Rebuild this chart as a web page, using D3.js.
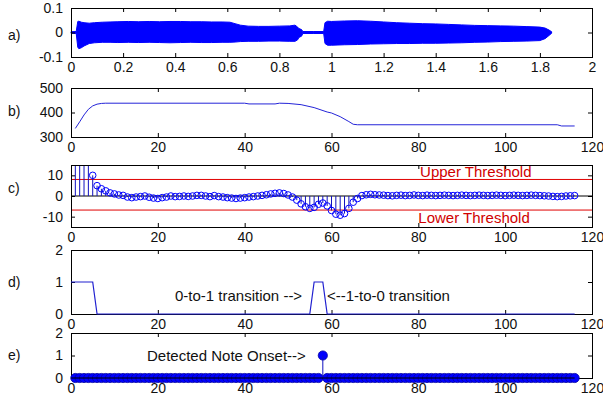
<!DOCTYPE html>
<html>
<head>
<meta charset="utf-8">
<script src="https://cdn.jsdelivr.net/npm/d3@7"></script>
<style>
  body { margin: 0; background: #fff; }
  text { font-family: "Liberation Sans", Arial, sans-serif; }
</style>
</head>
<body>
<script>

// ---- data ----

// a) waveform envelope (time in s)
var waveTime  = [0, 0.02, 0.026, 0.03, 0.04, 0.05, 0.07, 0.09, 0.12, 0.15, 0.18, 0.22, 0.26, 0.3, 0.34, 0.38, 0.42, 0.46, 0.5, 0.54, 0.58, 0.61, 0.63, 0.65, 0.68, 0.72, 0.76, 0.8, 0.84, 0.86, 0.87, 0.875, 0.885, 0.89, 0.93, 0.97, 0.975, 0.985, 1.0, 1.05, 1.1, 1.15, 1.2, 1.25, 1.3, 1.35, 1.4, 1.45, 1.5, 1.55, 1.6, 1.65, 1.7, 1.75, 1.8, 1.82, 1.835, 1.845];
var waveUpper = [0.003, 0.004, 0.045, 0.046, 0.042, 0.04, 0.038, 0.04, 0.042, 0.043, 0.044, 0.045, 0.044, 0.045, 0.044, 0.045, 0.045, 0.044, 0.044, 0.043, 0.043, 0.042, 0.036, 0.03, 0.026, 0.025, 0.025, 0.026, 0.027, 0.03, 0.022, 0.016, 0.012, 0.004, 0.004, 0.004, 0.04, 0.046, 0.045, 0.047, 0.048, 0.046, 0.043, 0.04, 0.038, 0.036, 0.035, 0.033, 0.031, 0.029, 0.028, 0.027, 0.026, 0.024, 0.022, 0.018, 0.01, 0.003];
var waveLower = [-0.003, -0.004, -0.06, -0.066, -0.062, -0.055, -0.045, -0.042, -0.04, -0.04, -0.041, -0.04, -0.041, -0.04, -0.041, -0.042, -0.041, -0.04, -0.041, -0.041, -0.04, -0.04, -0.039, -0.037, -0.036, -0.036, -0.035, -0.035, -0.036, -0.036, -0.03, -0.02, -0.015, -0.004, -0.004, -0.004, -0.045, -0.052, -0.052, -0.05, -0.049, -0.047, -0.046, -0.045, -0.045, -0.044, -0.044, -0.043, -0.042, -0.04, -0.039, -0.037, -0.036, -0.035, -0.033, -0.025, -0.012, -0.003];

// b) pitch track (frame, Hz)
var pitchFrame = [1, 2, 3, 4, 5, 6, 7, 8, 40, 41, 47, 48, 50, 53, 56, 59, 60, 62, 64, 65, 66, 112, 113, 116];
var pitchHz    = [335, 362, 390, 413, 427, 434, 437, 438, 438, 435, 435, 438, 437, 432, 420, 402, 398, 383, 363, 352, 350, 350, 345, 345];

// c) pitch derivative per frame (frames 1..116) and thresholds
var derivValue = [30, 28, 25, 20, 10, 5, 3.5, 2.5, 1.5, 1,
  0.5, 0.3, -0.5, -0.8, -0.5, -0.3, 0, -0.6, -1, -1.2,
  -0.8, -0.5, 0, -0.3, -0.2, 0, -0.2, 0, 0.3, 0.3,
  0, -0.3, 0.2, -0.3, -0.5, -0.8, -1, -1.2, -1, -0.8,
  -0.5, -0.3, 0, 0.3, 0.6, 1, 1.3, 1.5, 1.2, 0.5,
  -0.5, -2, -3.8, -5.2, -6, -5.5, -4, -3.4, -4.8, -7,
  -8.8, -9.3, -8.5, -6, -3, -1.2, 0.2, 0.6, 0.8, 0.6,
  0.5, 0.4, 0.2, 0.1, 0.3, 0.4, 0.2, 0.3, 0.5, 0.3,
  0.2, 0.4, 0.3, 0.2, 0.3, 0.4, 0.3, 0.2, 0.3, 0.4,
  0.3, 0.2, 0.3, 0.4, 0.3, 0.2, 0.3, 0.4, 0.3, 0.2,
  0.3, 0.4, 0.3, 0.2, 0.3, 0.4, 0.3, 0.2, 0.1, 0,
  -0.2, -0.3, -0.2, 0, 0.1, 0.2];
var upperThreshold = 8;
var lowerThreshold = -6.8;

// d) state signal (breakpoints)
var stateFrame = [0, 5, 6, 55, 56, 58, 59, 116];
var stateValue = [1, 1, 0, 0, 1, 1, 0, 0];

// e) detected onsets
var onsetFrames = [58];

// tick values
var timeTicks  = [0, 0.2, 0.4, 0.6, 0.8, 1, 1.2, 1.4, 1.6, 1.8, 2];
var frameTicks = [0, 20, 40, 60, 80, 100, 120];

// ---- layout ----
var W = 603, H = 402;
var left = 71, right = 592;
var blue = '#0000ff';
var red = '#e00000';

var svg = d3.select('body').append('svg')
            .attr('width', W)
            .attr('height', H);

svg.append('rect').attr('width', W).attr('height', H).attr('fill', '#fff');

// builds one MATLAB-like axes box with inward ticks on all four sides
function makePanel(p) {
  var x = d3.scaleLinear().domain(p.xDomain).range([left, right]);
  var y = d3.scaleLinear().domain(p.yDomain).range([p.bottom, p.top]);
  var g = svg.append('g');

  var xb = g.append('g')
    .attr('transform', 'translate(0,' + p.bottom + ')')
    .call(d3.axisBottom(x).tickValues(p.xTicks).tickSizeInner(-4).tickSizeOuter(0)
            .tickPadding(5).tickFormat(function(d) { return String(d); }));
  g.append('g')
    .attr('transform', 'translate(0,' + p.top + ')')
    .call(d3.axisTop(x).tickValues(p.xTicks).tickSizeInner(-4).tickSizeOuter(0)
            .tickFormat(''));
  g.append('g')
    .attr('transform', 'translate(' + left + ',0)')
    .call(d3.axisLeft(y).tickValues(p.yTicks).tickSizeInner(-4).tickSizeOuter(0)
            .tickPadding(8).tickFormat(function(d) { return String(d); }));
  g.append('g')
    .attr('transform', 'translate(' + right + ',0)')
    .call(d3.axisRight(y).tickValues(p.yTicks).tickSizeInner(-4).tickSizeOuter(0)
            .tickFormat(''));

  g.selectAll('.domain').remove();
  g.selectAll('.tick line').attr('stroke', '#000');
  g.selectAll('.tick text')
   .attr('font-family', '"Liberation Sans", Arial, sans-serif')
   .attr('font-size', 14)
   .attr('fill', '#111');

  // box
  g.append('rect')
   .attr('x', left + 0.5)
   .attr('y', p.top + 0.5)
   .attr('width', right - left)
   .attr('height', p.bottom - p.top)
   .attr('fill', 'none')
   .attr('stroke', '#000')
   .attr('stroke-width', 1);

  // panel letter
  svg.append('text')
     .attr('x', 8)
     .attr('y', p.labelY)
     .attr('dy', '0.35em')
     .attr('font-size', 14)
     .attr('fill', '#111')
     .text(p.label);

  var plot = svg.append('g');
  return {x: x, y: y, g: plot, box: g};
}

// a) waveform
var pa = makePanel({top: 8, bottom: 57, xDomain: [0, 2], yDomain: [-0.1, 0.1],
                    xTicks: timeTicks, yTicks: [-0.1, 0, 0.1], label: 'a)', labelY: 35});
var waveData = waveTime.map(function(t, i) { return {t: t, hi: waveUpper[i], lo: waveLower[i]}; });
pa.g.append('path')
  .datum(waveData)
  .attr('d', d3.area()
      .x(function(d) { return pa.x(d.t); })
      .y0(function(d) { return pa.y(d.lo); })
      .y1(function(d) { return pa.y(d.hi); }))
  .attr('fill', blue)
  .attr('stroke', blue)
  .attr('stroke-width', 1);
pa.g.append('line')
  .attr('x1', pa.x(0)).attr('x2', pa.x(waveTime[waveTime.length - 1]))
  .attr('y1', pa.y(0)).attr('y2', pa.y(0))
  .attr('stroke', blue).attr('stroke-width', 1.5);
pa.box.raise();

// b) pitch
var pb = makePanel({top: 88, bottom: 137, xDomain: [0, 120], yDomain: [300, 500],
                    xTicks: frameTicks, yTicks: [300, 400, 500], label: 'b)', labelY: 111});
pb.g.append('path')
  .datum(pitchFrame.map(function(f, i) { return [f, pitchHz[i]]; }))
  .attr('d', d3.line()
      .x(function(d) { return pb.x(d[0]); })
      .y(function(d) { return pb.y(d[1]); }))
  .attr('fill', 'none')
  .attr('stroke', '#2424d8')
  .attr('stroke-width', 1);

// c) derivative stem plot with thresholds
var pc = makePanel({top: 165, bottom: 227, xDomain: [0, 120], yDomain: [-15, 15],
                    xTicks: frameTicks, yTicks: [-10, 0, 10], label: 'c)', labelY: 188});
svg.append('defs').append('clipPath')
   .attr('id', 'clipC')
   .append('rect')
   .attr('x', left).attr('y', 165)
   .attr('width', right - left).attr('height', 227 - 165);
var cg = pc.g.attr('clip-path', 'url(#clipC)');
var derivData = derivValue.map(function(v, i) { return {f: i + 1, v: v}; });

[upperThreshold, lowerThreshold].forEach(function(th) {
  cg.append('line')
    .attr('x1', left).attr('x2', right)
    .attr('y1', pc.y(th)).attr('y2', pc.y(th))
    .attr('stroke', red).attr('stroke-width', 1);
});
cg.append('line')
  .attr('x1', left).attr('x2', right)
  .attr('y1', pc.y(0)).attr('y2', pc.y(0))
  .attr('stroke', '#000').attr('stroke-width', 1);
cg.selectAll('.stem')
  .data(derivData)
  .enter().append('line')
  .attr('class', 'stem')
  .attr('x1', function(d) { return pc.x(d.f); })
  .attr('x2', function(d) { return pc.x(d.f); })
  .attr('y1', pc.y(0))
  .attr('y2', function(d) { return pc.y(d.v); })
  .attr('stroke', '#1010c0')
  .attr('stroke-width', 1);
cg.selectAll('circle')
  .data(derivData)
  .enter().append('circle')
  .attr('cx', function(d) { return pc.x(d.f); })
  .attr('cy', function(d) { return pc.y(d.v); })
  .attr('r', 3.3)
  .attr('fill', 'none')
  .attr('stroke', blue)
  .attr('stroke-width', 1);

pc.g.append('text')
  .attr('x', pc.x(80.4)).attr('y', pc.y(upperThreshold) - 2)
  .attr('font-size', 15).attr('fill', '#d00000')
  .text('Upper Threshold');
pc.g.append('text')
  .attr('x', pc.x(80)).attr('y', pc.y(lowerThreshold) + 12.5)
  .attr('font-size', 15).attr('fill', '#d00000')
  .text('Lower Threshold');
pc.box.raise();

// d) state signal
var pd = makePanel({top: 250, bottom: 314, xDomain: [0, 120], yDomain: [0, 2],
                    xTicks: frameTicks, yTicks: [0, 1, 2], label: 'd)', labelY: 282});
pd.g.append('path')
  .datum(stateFrame.map(function(f, i) { return [f, stateValue[i]]; }))
  .attr('d', d3.line()
      .x(function(d) { return pd.x(d[0]); })
      .y(function(d) { return pd.y(d[1]); }))
  .attr('fill', 'none')
  .attr('stroke', '#2020d0')
  .attr('stroke-width', 1.2);
pd.g.append('text')
  .attr('x', 175).attr('y', 300.5)
  .attr('font-size', 15).attr('fill', '#111')
  .text('0-to-1 transition -->');
pd.g.append('text')
  .attr('x', 327).attr('y', 300.5)
  .attr('font-size', 15).attr('fill', '#111')
  .text('<--1-to-0 transition');

// e) onsets
var pe = makePanel({top: 333, bottom: 378, xDomain: [0, 120], yDomain: [0, 2],
                    xTicks: frameTicks, yTicks: [0, 1, 2], label: 'e)', labelY: 355});
var onsetData = derivValue.map(function(v, i) {
  var f = i + 1;
  return {f: f, v: onsetFrames.indexOf(f) >= 0 ? 1 : 0};
});
pe.g.selectAll('circle')
  .data(onsetData)
  .enter().append('circle')
  .attr('cx', function(d) { return pe.x(d.f); })
  .attr('cy', function(d) { return pe.y(d.v); })
  .attr('r', 4.6)
  .attr('fill', blue)
  .attr('stroke', '#0000a0')
  .attr('stroke-width', 0.8);
pe.g.selectAll('.stem')
  .data(onsetData.filter(function(d) { return d.v > 0; }))
  .enter().append('line')
  .attr('class', 'stem')
  .attr('x1', function(d) { return pe.x(d.f); })
  .attr('x2', function(d) { return pe.x(d.f); })
  .attr('y1', pe.y(0))
  .attr('y2', function(d) { return pe.y(d.v); })
  .attr('stroke', '#1010c0')
  .attr('stroke-width', 1);
pe.g.append('line')
  .attr('x1', pe.x(0)).attr('x2', pe.x(116))
  .attr('y1', pe.y(0)).attr('y2', pe.y(0))
  .attr('stroke', '#000').attr('stroke-width', 1);
pe.g.append('text')
  .attr('x', 147).attr('y', 361)
  .attr('font-size', 15).attr('fill', '#111')
  .text('Detected Note Onset-->');

</script>
</body>
</html>
